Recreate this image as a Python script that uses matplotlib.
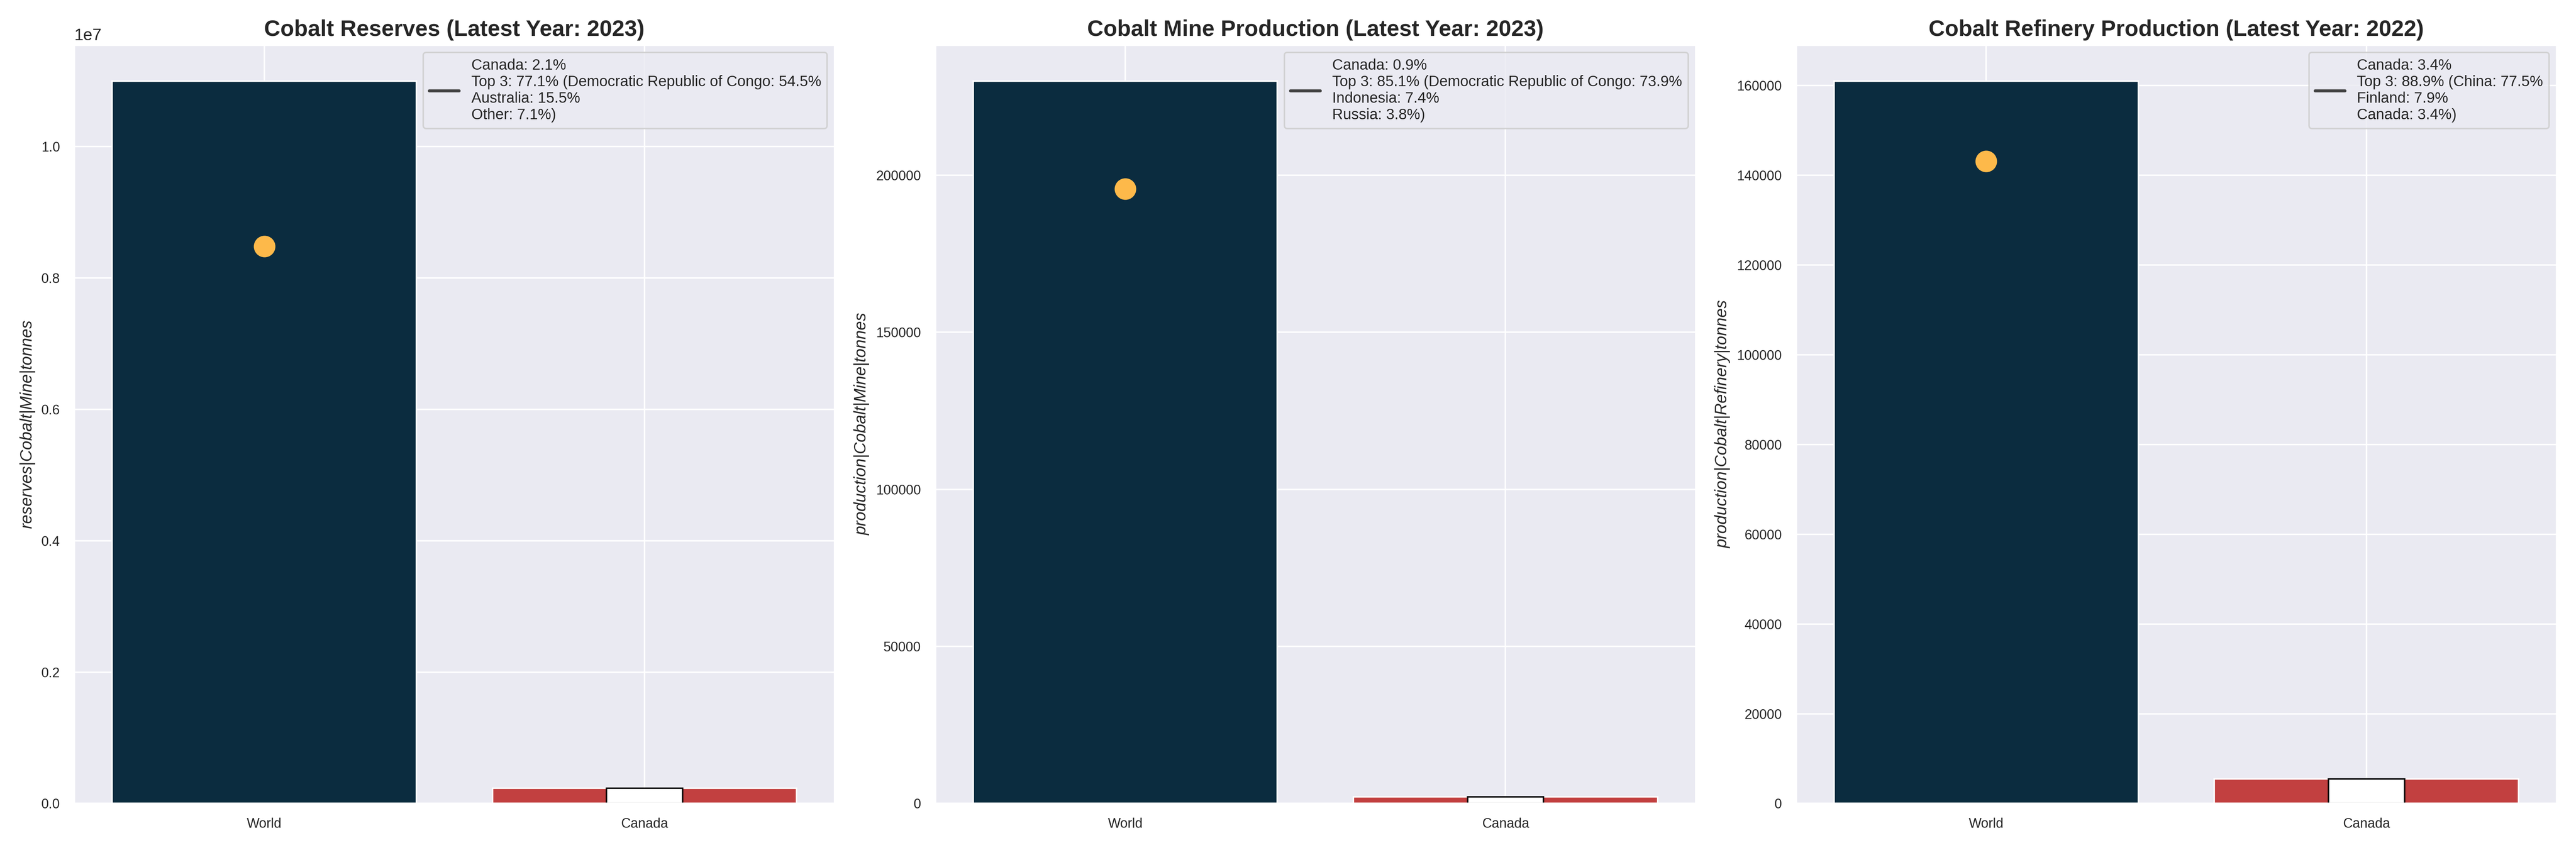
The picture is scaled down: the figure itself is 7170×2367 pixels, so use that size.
import matplotlib.pyplot as plt
import seaborn as sns

sns.set_theme(style="darkgrid")
plt.rcParams['font.family'] = ['Liberation Sans', 'DejaVu Sans']

# ── Data ───────────────────────────────────────────────
categories = ["World", "Canada"]
titles = ["Cobalt Reserves (Latest Year: 2023)",
          "Cobalt Mine Production (Latest Year: 2023)",
          "Cobalt Refinery Production (Latest Year: 2022)"]
ylabels = ["reserves|Cobalt|Mine|tonnes",
           "production|Cobalt|Mine|tonnes",
           "production|Cobalt|Refinery|tonnes"]
world_vals = [11000000, 230000, 161000]
canada_vals = [231000, 2070, 5470]
top3_vals = [8480000, 195700, 143100]
legend_texts = [
    "Canada: 2.1%\nTop 3: 77.1% (Democratic Republic of Congo: 54.5%\nAustralia: 15.5%\nOther: 7.1%)",
    "Canada: 0.9%\nTop 3: 85.1% (Democratic Republic of Congo: 73.9%\nIndonesia: 7.4%\nRussia: 3.8%)",
    "Canada: 3.4%\nTop 3: 88.9% (China: 77.5%\nFinland: 7.9%\nCanada: 3.4%)",
]

fig, axes = plt.subplots(1, 3, figsize=(23.9, 7.89), dpi=300)

for i, ax in enumerate(axes):
    ax.bar(categories, [world_vals[i], canada_vals[i]],
           color=["#0b2c3f", "#c24040"], width=0.8)
    ax.bar(categories[1], canada_vals[i], width=0.2,
           color="white", edgecolor="black", linewidth=1)
    ax.scatter([categories[0]], [top3_vals[i]], s=180, color="#fdb94a", zorder=5)
    ax.plot([], [], color="#444444", linewidth=2, label=legend_texts[i])
    ax.legend(loc="upper right", fontsize=10, frameon=True)
    ax.set_title(titles[i], fontsize=15, fontweight="bold")
    ax.set_ylabel(ylabels[i], fontsize=11, style="italic")
    ax.set_xlim(-0.5, 1.5)
    ax.tick_params(labelsize=9)

plt.tight_layout()
plt.savefig("out.png")
